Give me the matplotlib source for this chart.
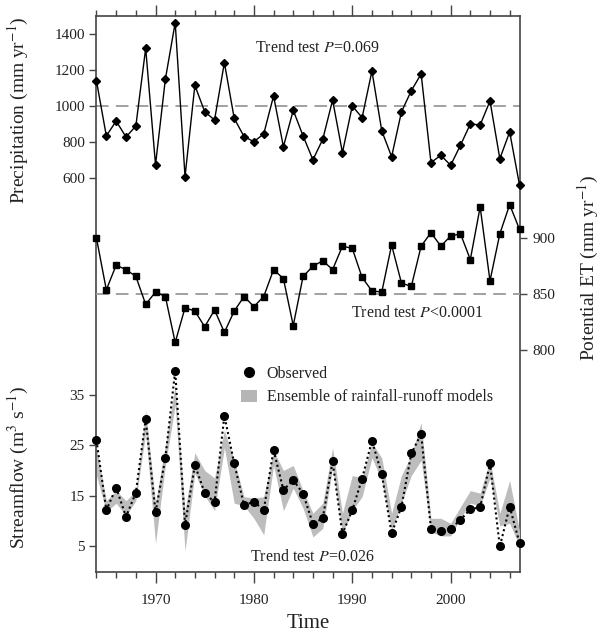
import matplotlib
matplotlib.use('Agg')
import matplotlib.pyplot as plt
from matplotlib.lines import Line2D
from matplotlib.patches import Patch
import numpy as np

plt.rcParams['font.family'] = ['Liberation Serif', 'DejaVu Serif']
plt.rcParams['mathtext.fontset'] = 'stix'

# years 1964-2007
years = np.arange(1964, 2008)

precip = [1139, 833, 916, 827, 888, 1322, 672, 1149, 1465, 606,
          1115, 968, 922, 1242, 931, 829, 801, 844, 1056, 773,
          976, 833, 700, 814, 1033, 740, 1000, 935, 1195, 861,
          717, 967, 1085, 1179, 684, 725, 669, 781, 900, 894,
          1028, 706, 855, 559]

pet = [900, 854, 876, 872, 866, 841, 852, 848, 807, 838,
       835, 821, 836, 816, 835, 848, 839, 848, 872, 864,
       822, 866, 875, 880, 872, 893, 891, 865, 853, 852,
       894, 860, 857, 893, 905, 893, 902, 904, 881, 928,
       862, 904, 930, 908]

flow_obs = [26.0, 12.1, 16.6, 10.8, 15.6, 30.2, 11.7, 22.5, 39.8, 9.2,
            21.1, 15.5, 13.7, 30.9, 21.4, 13.1, 13.8, 12.1, 24.1, 16.1,
            18.1, 15.4, 9.4, 10.5, 21.8, 7.4, 12.1, 18.4, 25.9, 19.3,
            7.5, 12.8, 23.4, 27.2, 8.4, 8.0, 8.4, 10.2, 12.3, 12.7,
            21.4, 4.9, 12.8, 5.6]

# ensemble of rainfall-runoff models (range)
flow_hi = [24.5, 14, 16, 14, 16, 32, 13.5, 25, 37, 12,
           23.5, 20, 18.5, 28, 22, 14.8, 14.5, 14.8, 24, 20,
           21, 16, 11.5, 13.5, 24.5, 11.5, 19, 18.5, 25.5, 22.5,
           11.5, 19, 23, 29.5, 10.5, 10.5, 9.5, 12.8, 16, 15.5,
           22, 11.5, 18, 8]
flow_lo = [19, 11.8, 13.5, 11, 14, 27.5, 5.5, 21, 33, 4,
           19.5, 15, 12, 24.5, 13.5, 13, 10.5, 7.2, 21, 12,
           16.5, 12.5, 6.8, 8.5, 20.5, 7.5, 12, 14.8, 22.5, 18,
           8, 13.5, 19, 22, 7.8, 7, 7, 10.5, 13.5, 13,
           18.5, 9, 9.5, 5]

precip_ticks = [600, 800, 1000, 1200, 1400]
pet_ticks = [800, 850, 900]
flow_ticks = [5, 15, 25, 35]
year_ticks = [1970, 1980, 1990, 2000]

W, H = 603, 639
fig = plt.figure(figsize=(W / 100, H / 100), dpi=100)
L, R, T, B = 96, 520, 16, 572
rect = [L / W, (H - B) / H, (R - L) / W, (B - T) / H]

spine_c = '#444444'
txt_c = '#222222'
dash_c = '#9a9a9a'


def px(x, y):
    # pixel from top-left -> figure fraction
    return x / W, 1 - y / H


# --- precipitation (carries the frame)
ax_p = fig.add_axes(rect)
ax_p.set_xlim(1963.95, 2007.05)
ax_p.set_ylim(-1600, 1502)
ax_p.axhline(1000, color=dash_c, lw=1.3, ls=(0, (7, 4)), zorder=1)
ax_p.plot(years, precip, color='black', lw=1.0, marker='D', ms=4.5,
          clip_on=False, zorder=3)
ax_p.set_yticks(precip_ticks)
ax_p.set_xticks(year_ticks)
ax_p.set_xticks(np.arange(1964, 2008, 2), minor=True)
ax_p.tick_params(axis='x', which='both', top=True, bottom=True, direction='out',
                 colors=spine_c, labelcolor=txt_c, labelsize=11, pad=8)
ax_p.tick_params(axis='x', which='major', length=8, width=1)
ax_p.tick_params(axis='x', which='minor', length=4, width=1)
ax_p.tick_params(axis='y', direction='out', length=5, width=1, colors=spine_c,
                 labelcolor=txt_c, labelsize=11, pad=3)
for s in ax_p.spines.values():
    s.set_color(spine_c)
    s.set_linewidth(1.2)

# --- potential ET on right
ax_e = ax_p.twinx()
ax_e.set_ylim(602, 1098.5)
ax_e.set_frame_on(False)
ax_e.axhline(850, color=dash_c, lw=1.3, ls=(0, (7, 4)), zorder=1)
ax_e.plot(years, pet, color='black', lw=1.0, marker='s', ms=4.2,
          clip_on=False, zorder=3)
ax_e.set_yticks(pet_ticks)
ax_e.tick_params(axis='y', direction='out', length=5, width=1, colors=spine_c,
                 labelcolor=txt_c, labelsize=11, pad=4)

# --- streamflow on left, bottom part
ax_q = ax_p.twinx()
ax_q.set_ylim(-0.17, 110.3)
ax_q.set_frame_on(False)
ax_q.yaxis.tick_left()
ax_q.fill_between(years, flow_lo, flow_hi, color='#bdbdbd', lw=0, zorder=1)
ax_q.plot(years, flow_obs, color='black', lw=1.5, ls=(0, (1, 1.4)),
          marker='o', ms=5.5, clip_on=False, zorder=3)
ax_q.set_yticks(flow_ticks)
ax_q.tick_params(axis='y', direction='out', length=5, width=1, colors=spine_c,
                 labelcolor=txt_c, labelsize=11, pad=3)

# trend test notes
fig.text(*px(317, 48), r'Trend test $P$=0.069', fontsize=11.5,
         color=txt_c, ha='center', va='center')
fig.text(*px(417, 313), r'Trend test $P$<0.0001', fontsize=11.5,
         color=txt_c, ha='center', va='center')
fig.text(*px(312, 557), r'Trend test $P$=0.026', fontsize=11.5,
         color=txt_c, ha='center', va='center')

handles = [Line2D([], [], color='black', marker='o', ms=7, ls='none'),
           Patch(facecolor='#b5b5b5', edgecolor='none')]
fig.legend(handles, ['Observed', 'Ensemble of rainfall-runoff models'],
           loc='upper left', bbox_to_anchor=px(241, 366),
           frameon=False, fontsize=11.5, handlelength=1.0, handleheight=0.8,
           handletextpad=0.6, labelspacing=0.45, borderpad=0, borderaxespad=0,
           labelcolor=txt_c)

# axis labels
fig.text(*px(18, 110), r'Precipitation (mm yr$^{-1}$)', rotation=90,
         ha='center', va='center', fontsize=14, color=txt_c)
fig.text(*px(18, 467), r'Streamflow (m$^{3}$ s$^{-1}$)', rotation=90,
         ha='center', va='center', fontsize=14, color=txt_c)
fig.text(*px(588, 268), r'Potential ET (mm yr$^{-1}$)', rotation=90,
         ha='center', va='center', fontsize=14, color=txt_c)
fig.text(*px(308, 624), 'Time', ha='center', va='center',
         fontsize=15, color=txt_c)

fig.savefig('out.png', dpi=100)
